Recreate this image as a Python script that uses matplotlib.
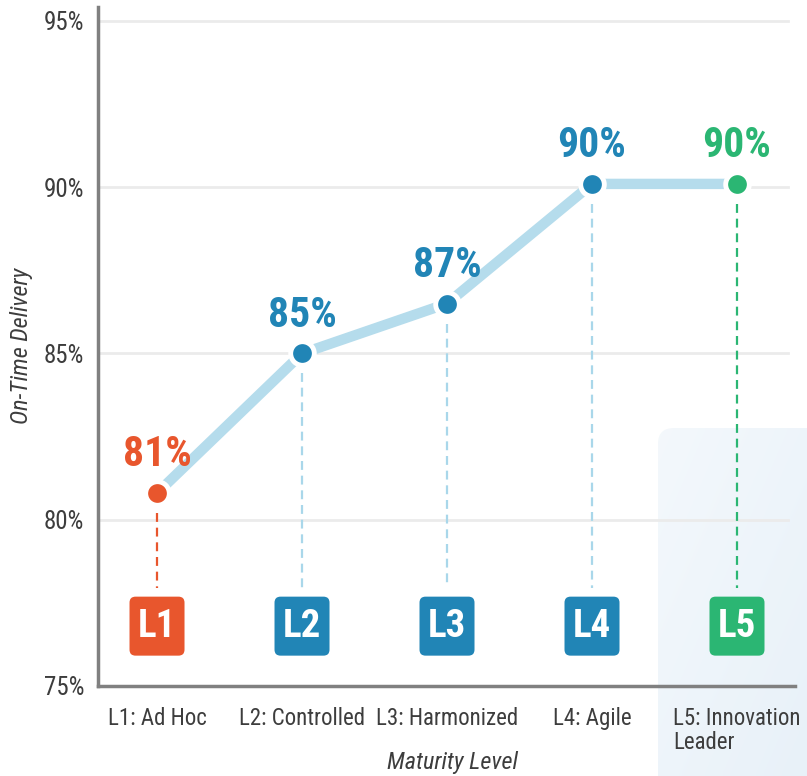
import matplotlib
matplotlib.use("Agg")
import matplotlib.pyplot as plt
import numpy as np
from matplotlib.patches import FancyBboxPatch
from matplotlib import transforms
from matplotlib import font_manager

_fl = font_manager.fontManager.ttflist
def _ok(name):
    ents = [f for f in _fl if f.name == name and "[" not in f.fname]
    has_bold = any(f.weight in (700, "bold") and f.style == "normal" for f in ents)
    has_it = any(f.style == "italic" for f in ents)
    return has_bold and has_it
FONT = "DejaVu Sans"
for cand in ["Roboto Condensed", "Barlow Semi Condensed", "IBM Plex Sans Condensed"]:
    if _ok(cand):
        FONT = cand
        break
plt.rcParams["font.family"] = [FONT, "DejaVu Sans"]

# ---- data ----
categories = ["L1: Ad Hoc", "L2: Controlled", "L3: Harmonized", "L4: Agile", "L5: Innovation\nLeader"]
badges = ["L1", "L2", "L3", "L4", "L5"]
on_time = [80.8, 85.0, 86.5, 90.1, 90.1]
value_labels = ["81%", "85%", "87%", "90%", "90%"]
point_colors = ["#e8562d", "#2185b6", "#2185b6", "#2185b6", "#2bb673"]
drop_colors = ["#e8562d", "#a9d7ea", "#a9d7ea", "#a9d7ea", "#2bb673"]
yticks = [75, 80, 85, 90, 95]
ytick_labels = ["75%", "80%", "85%", "90%", "95%"]

W, H = 807, 776
fig = plt.figure(figsize=(W / 100, H / 100), dpi=100)
fig.patch.set_facecolor("white")

# highlighted region behind L5 (figure coords) with a soft gradient
sx0, sy_top = 658 / W, 1 - 428 / H
bg_ax = fig.add_axes([0, 0, 1, 1], zorder=-10)
bg_ax.set_axis_off()
bg_ax.set_xlim(0, 1)
bg_ax.set_ylim(0, 1)
grad = np.linspace(0, 1, 64)
gx, gy = np.meshgrid(grad, grad)
g = 0.5 * gx + 0.5 * gy
c0 = np.array([0.955, 0.973, 0.988])
c1 = np.array([0.910, 0.945, 0.975])
img = c0[None, None, :] * (1 - g[..., None]) + c1[None, None, :] * g[..., None]
im = bg_ax.imshow(img, extent=[sx0, 1.0, 0.0, sy_top], origin="upper",
                  aspect="auto", interpolation="bilinear")
shade = FancyBboxPatch((sx0, -0.05), 0.3, sy_top + 0.05,
                       boxstyle="round,pad=0,rounding_size=0.02",
                       transform=bg_ax.transAxes, facecolor="none", edgecolor="none")
bg_ax.add_patch(shade)
im.set_clip_path(shade)

ax = fig.add_axes([98 / W, 1 - 686 / H, (795 - 98) / W, (686 - 7) / H])
ax.set_zorder(1)
ax.set_facecolor("none")
x = list(range(len(categories)))
ax.set_xlim(-0.407, 4.4)
ax.set_ylim(75, 95.42)

for yv in yticks[1:]:
    ax.axhline(yv, xmin=0, xmax=0.99, color="#ebebeb", lw=2, zorder=1)

# connecting line
ax.plot(x, on_time, color="#b5dcec", lw=7.5, solid_capstyle="butt", zorder=2)

# drop lines
badge_y = 76.8
for xi, yi, c in zip(x, on_time, drop_colors):
    ax.plot([xi, xi], [yi - 0.6, 77.95], color=c, lw=1.6,
            linestyle=(0, (4, 2.6)), zorder=1.5)

# points and value labels
for xi, yi, c, lab in zip(x, on_time, point_colors, value_labels):
    ax.plot(xi, yi, "o", ms=17, color=c, mec="white", mew=3.5, zorder=4)
    ax.annotate(lab, (xi, yi), xytext=(0, 27.5), textcoords="offset points",
                ha="center", va="center", fontsize=30, fontweight="bold",
                color=c, zorder=5)

# badges
bw, bh = 0.55, 0.59  # inches
for xi, c, b in zip(x, point_colors, badges):
    tr = fig.dpi_scale_trans + transforms.ScaledTranslation(xi, badge_y, ax.transData)
    p = FancyBboxPatch((-bw / 2, -bh / 2), bw, bh,
                       boxstyle="round,pad=0,rounding_size=0.06",
                       transform=tr, facecolor=c, edgecolor="none", zorder=3,
                       clip_on=False)
    ax.add_patch(p)
    ax.text(xi, badge_y, b, ha="center", va="center", color="white",
            fontsize=28, fontweight="bold", zorder=4)

# axes styling
for s in ["top", "right"]:
    ax.spines[s].set_visible(False)
for s in ["left", "bottom"]:
    ax.spines[s].set_color("#808080")
    ax.spines[s].set_linewidth(2.5)
    ax.spines[s].set_zorder(6)

ax.set_yticks(yticks)
ax.set_yticklabels(ytick_labels)
ax.set_xticks(x)
ax.set_xticklabels(categories)
for t in ax.get_xticklabels():
    t.set_multialignment("left")
    t.set_fontsize(16.5)
    t.set_linespacing(1.05)
for t in ax.get_yticklabels():
    t.set_fontsize(18)
ax.tick_params(axis="both", length=0, labelcolor="#3d3d3d")
ax.tick_params(axis="x", pad=15)
ax.tick_params(axis="y", pad=10)

ax.set_xlabel("Maturity Level", fontsize=17.5, style="italic", color="#3d3d3d", va="center")
ax.xaxis.set_label_coords((452 - 98) / 697, (686 - 763) / 679)
ax.set_ylabel("On-Time Delivery", fontsize=17.5, style="italic", color="#3d3d3d", va="center")
ax.yaxis.set_label_coords((22 - 98) / 697, (686 - 346) / 679)

fig.savefig("out.png", dpi=100)
